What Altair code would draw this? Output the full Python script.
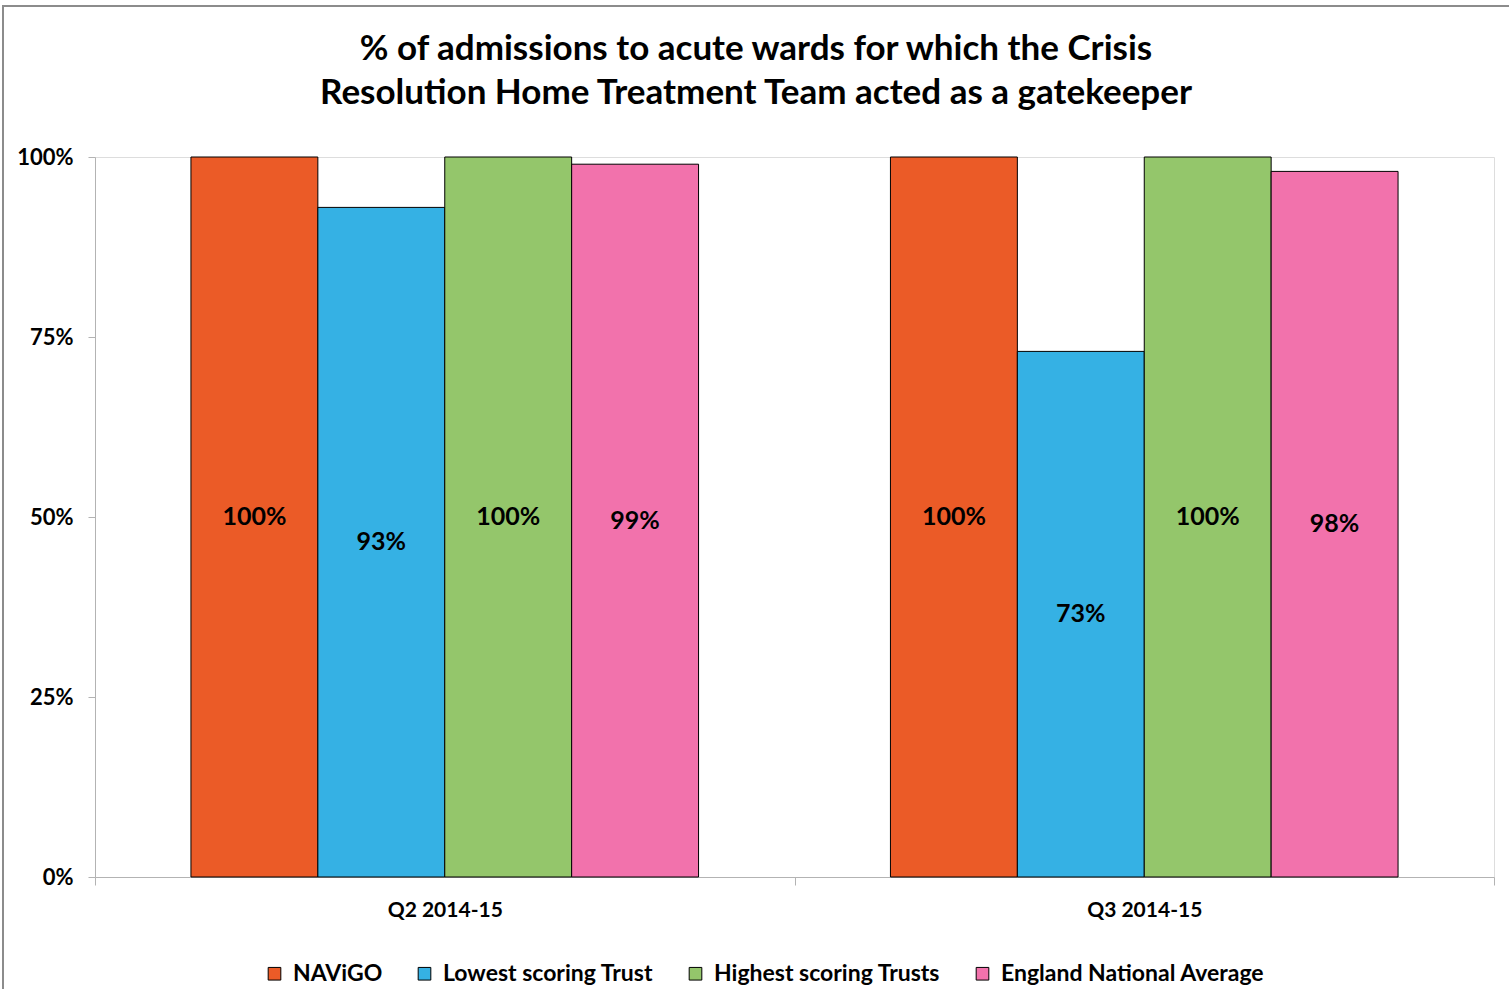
import altair as alt
import pandas as pd

quarters = ["Q2 2014-15", "Q3 2014-15"]
series = ["NAViGO", "Lowest scoring Trust", "Highest scoring Trusts", "England National Average"]
q2_values = [1.00, 0.93, 1.00, 0.99]
q3_values = [1.00, 0.73, 1.00, 0.98]
colors = ["#EB5B27", "#35B1E4", "#94C66B", "#F272AC"]
y_ticks = [0, 0.25, 0.5, 0.75, 1.0]
title_lines = ["% of admissions to acute wards for which the Crisis",
               "Resolution Home Treatment Team acted as a gatekeeper"]

rows = []
for q, vals in zip(quarters, [q2_values, q3_values]):
    for s, v in zip(series, vals):
        rows.append({"quarter": q, "series": s, "value": v})
df = pd.DataFrame(rows)

FONT = "Lato"

base = alt.Chart(df).encode(
    x=alt.X("quarter:N", sort=quarters,
            scale=alt.Scale(paddingInner=0, paddingOuter=0),
            axis=alt.Axis(title=None, labelAngle=0, tickBand="extent",
                          labelFont=FONT, labelFontSize=21, labelFontWeight="bold",
                          labelColor="#000000", labelPadding=14, tickSize=8,
                          domainColor="#b3b3b3", tickColor="#b3b3b3")),
    xOffset=alt.XOffset("series:N", sort=series,
                        scale=alt.Scale(paddingInner=0, paddingOuter=0.756)),
)

bars = base.mark_bar(stroke="#000000", strokeWidth=1).encode(
    y=alt.Y("value:Q", scale=alt.Scale(domain=[0, 1]),
            axis=alt.Axis(title=None, format=".0%", values=y_ticks, grid=False,
                          labelFont=FONT, labelFontSize=22, labelFontWeight="bold",
                          labelColor="#000000", labelPadding=15, tickSize=7,
                          domainColor="#b3b3b3", tickColor="#b3b3b3")),
    color=alt.Color("series:N", sort=series,
                    scale=alt.Scale(domain=series, range=colors),
                    legend=alt.Legend(title=None, orient="none", direction="horizontal",
                                      legendX=168, legendY=805,
                                      symbolType="square", symbolSize=160,
                                      symbolStrokeColor="#000000", symbolStrokeWidth=1,
                                      symbolOpacity=1,
                                      labelFont=FONT, labelFontSize=23, labelFontWeight="bold",
                                      labelColor="#000000", labelOffset=7,
                                      columnPadding=30, labelLimit=400)),
)

labels = base.transform_calculate(mid="datum.value / 2").mark_text(
    font=FONT, fontSize=25, fontWeight="bold", color="#000000", baseline="middle"
).encode(
    y=alt.Y("mid:Q"),
    text=alt.Text("value:Q", format=".0%"),
)

frame_df = pd.DataFrame({"k": [0]})
title_1 = alt.Chart(frame_df).mark_text(
    font=FONT, fontSize=35, fontWeight="bold", color="#000000",
    baseline="middle", align="center"
).encode(text=alt.value(title_lines[0]), x=alt.value(661), y=alt.value(-108))
title_2 = alt.Chart(frame_df).mark_text(
    font=FONT, fontSize=35, fontWeight="bold", color="#000000",
    baseline="middle", align="center"
).encode(text=alt.value(title_lines[1]), x=alt.value(661), y=alt.value(-64))

left_border = alt.Chart(frame_df).mark_rule(color="#8c8c8c", strokeWidth=2).encode(
    x=alt.value(-92), y=alt.value(-152), y2=alt.value(840)
)
top_border = alt.Chart(frame_df).mark_rule(color="#8c8c8c", strokeWidth=2).encode(
    x=alt.value(-92), x2=alt.value(1420), y=alt.value(-151)
)

chart = alt.layer(bars, labels, title_1, title_2, left_border, top_border).properties(
    width=1399, height=720,
    autosize=alt.AutoSizeParams(type="none"),
    padding={"left": 95, "top": 157, "right": 15, "bottom": 112},
).configure_view(stroke=None).configure(background="#ffffff")

chart.save("out.html", embed_options={"renderer": "svg", "actions": False})
